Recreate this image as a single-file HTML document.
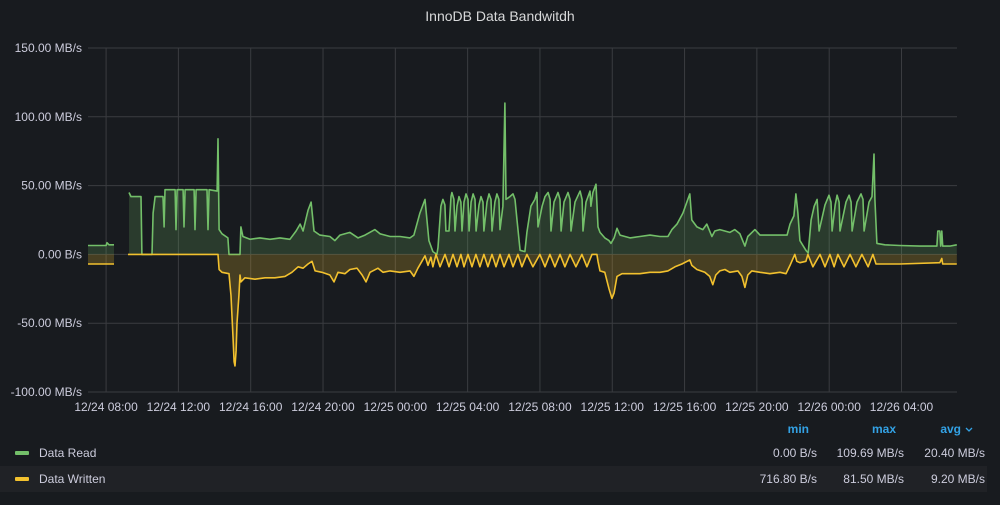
<!DOCTYPE html>
<html><head><meta charset="utf-8"><style>
html,body{margin:0;padding:0;background:#181b1f;}
body{width:1000px;height:500px;overflow:hidden;font-family:"Liberation Sans",sans-serif;}
svg text{font-family:"Liberation Sans",sans-serif;}
</style></head><body>
<svg id="chart" width="1000" height="500" xmlns="http://www.w3.org/2000/svg">
<rect x="0" y="0" width="1000" height="500" fill="#181b1f"/>
<text x="500" y="21" fill="#d8d9da" font-size="14" text-anchor="middle" font-weight="500">InnoDB Data Bandwitdh</text>
<g id="grid"></g><g id="series"></g><g id="axes"></g>
<g id="legend">
<text x="809" y="433" fill="#33a2e5" font-size="12" text-anchor="end" font-weight="bold">min</text>
<text x="896" y="433" fill="#33a2e5" font-size="12" text-anchor="end" font-weight="bold">max</text>
<text x="961" y="433" fill="#33a2e5" font-size="12" text-anchor="end" font-weight="bold">avg</text>
<path d="M966 428 L969 431 L972 428" stroke="#33a2e5" stroke-width="1.3" fill="none"/>
<g>
<rect x="15" y="451" width="14" height="4" rx="1" fill="#73bf69"/>
<text x="39" y="457" fill="#ccccdc" font-size="12">Data Read</text>
<text x="817" y="457" fill="#ccccdc" font-size="12" text-anchor="end">0.00 B/s</text>
<text x="904" y="457" fill="#ccccdc" font-size="12" text-anchor="end">109.69 MB/s</text>
<text x="985" y="457" fill="#ccccdc" font-size="12" text-anchor="end">20.40 MB/s</text>
</g>
<rect x="0" y="466" width="987" height="26" fill="#202226"/>
<g>
<rect x="15" y="477" width="14" height="4" rx="1" fill="#f2c12e"/>
<text x="39" y="483" fill="#ccccdc" font-size="12">Data Written</text>
<text x="817" y="483" fill="#ccccdc" font-size="12" text-anchor="end">716.80 B/s</text>
<text x="904" y="483" fill="#ccccdc" font-size="12" text-anchor="end">81.50 MB/s</text>
<text x="985" y="483" fill="#ccccdc" font-size="12" text-anchor="end">9.20 MB/s</text>
</g>
</g>
</svg>
<script>
// hours since 12/24 00:00
const yTicks=[150,100,50,0,-50,-100];
const yTickLabels=["150.00 MB/s","100.00 MB/s","50.00 MB/s","0.00 B/s","-50.00 MB/s","-100.00 MB/s"];
const xTicks=[8,12,16,20,24,28,32,36,40,44,48,52];
const xTickLabels=["12/24 08:00","12/24 12:00","12/24 16:00","12/24 20:00","12/25 00:00","12/25 04:00","12/25 08:00","12/25 12:00","12/25 16:00","12/25 20:00","12/26 00:00","12/26 04:00"];
const readT=[7.00,8.00,8.05,8.16,8.44,8.85,9.27,9.38,9.93,9.98,10.54,10.60,10.71,11.15,11.21,11.26,11.82,11.87,11.93,12.26,12.31,12.37,12.87,12.92,12.98,13.58,13.64,13.70,14.14,14.19,14.25,14.41,14.74,14.80,15.41,15.46,15.57,15.96,16.51,17.07,17.62,18.17,18.51,18.73,18.90,19.17,19.34,19.50,19.83,20.38,20.66,20.94,21.49,21.94,22.32,22.87,23.15,23.71,24.26,24.81,25.03,25.36,25.64,25.86,26.08,26.30,26.36,26.52,26.63,26.74,26.80,26.97,27.08,27.13,27.24,27.30,27.41,27.52,27.63,27.69,27.80,27.91,28.02,28.08,28.19,28.30,28.41,28.47,28.63,28.74,28.85,28.90,29.07,29.18,29.29,29.35,29.51,29.62,29.73,29.79,29.95,30.06,30.12,30.34,30.51,30.62,30.73,30.90,31.17,31.28,31.50,31.72,31.83,31.89,32.12,32.28,32.45,32.56,32.61,32.78,33.00,33.11,33.17,33.33,33.55,33.66,33.72,33.94,34.22,34.33,34.38,34.55,34.77,34.82,34.93,35.10,35.21,35.32,35.59,35.82,35.93,36.10,36.26,36.43,36.98,37.53,38.09,38.64,39.08,39.30,39.58,39.91,40.29,40.40,40.68,41.01,41.23,41.51,41.67,41.95,42.50,42.78,43.06,43.34,43.50,43.89,44.17,44.72,45.28,45.67,45.83,46.05,46.16,46.27,46.38,46.71,46.84,47.00,47.17,47.33,47.44,47.77,47.99,48.10,48.16,48.33,48.44,48.55,48.60,48.93,49.10,49.21,49.27,49.54,49.76,49.87,49.93,50.20,50.37,50.48,50.53,50.64,51.08,51.91,53.02,53.96,54.01,54.12,54.17,54.23,54.28,54.67,55.06];
const readV=[6.5,6.5,8.5,7,7,null,45,42,42,0,0,30,42,42,20,47,47,18,47,47,20,47,47,18,47,47,18,47,46,84,18,15,12,0,0,20,13,11,12,11,12,11,17,22,17,32,38,17,14,13,10,14,16,12,14,18,15,13,13,12,14,30,40,10,2,0,5,35,40,36,17,17,42,45,40,17,35,42,38,17,38,44,40,17,38,44,40,17,36,42,38,17,38,44,40,17,38,44,40,18,35,110,40,42,44,40,25,3,2,16,35,40,45,20,35,42,45,40,17,38,45,40,17,38,45,40,17,38,46,40,17,38,46,35,45,51,20,16,12,10,8,12,19,14,12,13,14,13,13,18,22,30,44,25,20,18,22,13,17,18,16,18,15,6,13,18,14,14,14,14,22,28,44,30,10,3,1,25,35,40,17,36,43,38,17,36,43,38,17,38,43,38,17,38,44,40,17,38,42,73,40,8,7,6.5,6,6,17,17,6,17,6,6,7];
const writeT=[7.00,8.44,8.85,9.21,14.19,14.25,14.41,14.80,14.91,15.02,15.08,15.13,15.19,15.24,15.35,15.41,15.46,15.68,16.24,16.79,17.34,17.90,18.28,18.62,18.90,19.17,19.39,19.56,19.94,20.38,20.61,20.83,21.21,21.49,21.88,22.16,22.38,22.60,23.04,23.32,23.71,24.26,24.81,25.03,25.25,25.47,25.64,25.81,25.97,26.08,26.25,26.47,26.75,26.97,27.19,27.41,27.63,27.80,28.02,28.24,28.46,28.68,28.90,29.12,29.35,29.57,29.79,30.01,30.29,30.51,30.78,31.00,31.28,31.61,32.00,32.28,32.55,32.83,33.11,33.38,33.66,33.99,34.32,34.60,34.88,35.15,35.21,35.32,35.59,35.82,35.98,36.10,36.26,36.54,36.98,37.53,38.09,38.64,39.08,39.47,39.85,40.29,40.40,40.68,41.12,41.39,41.56,41.73,41.95,42.23,42.50,42.95,43.17,43.34,43.50,43.72,44.17,44.72,45.28,45.61,45.83,46.10,46.21,46.38,46.71,46.82,47.10,47.49,47.77,48.04,48.27,48.48,48.82,49.15,49.48,49.81,50.15,50.42,50.59,51.91,54.12,54.23,54.28,55.06];
const writeV=[-7,-7,null,0,0,-11,-13,-14,-30,-60,-78,-81,-70,-50,-30,-15,-20,-17,-18,-17,-17,-16,-13,-9,-10,-7,-5,-12,-13,-15,-20,-13,-14,-11,-10,-15,-20,-13,-10,-13,-12,-13,-12,-16,-10,-5,-1,-8,-2,-9,0,-9,0,-9,0,-9,0,-9,0,-9,0,-9,0,-9,0,-9,0,-9,0,-9,0,-9,0,-9,0,-9,0,-9,0,-9,0,-9,0,-9,0,0,-5,-12,-13,-25,-32,-28,-16,-14,-14,-14,-13,-13,-12,-9,-7,-4,-8,-11,-13,-16,-22,-15,-12,-11,-13,-12,-16,-24,-15,-12,-13,-14,-13,-14,-8,0,-5,-6,-5,0,-9,0,-9,0,-9,0,-9,0,-9,0,-9,0,-7,-7,-6,-3,-7,-7];

const X0=88,X1=957,Y0=48,Y1=392,TMIN=7.0,TMAX=55.07,VMIN=-100,VMAX=150;
const xs=t=>X0+(t-TMIN)/(TMAX-TMIN)*(X1-X0);
const ys=v=>Y1-(v-VMIN)/(VMAX-VMIN)*(Y1-Y0);
const NS="http://www.w3.org/2000/svg";
function mk(tag,parent){const e=document.createElementNS(NS,tag);parent.appendChild(e);return e;}
const grid=document.getElementById('grid'),axes=document.getElementById('axes'),ser=document.getElementById('series');
yTicks.forEach((v,i)=>{
  const l=mk('line',grid);
  
  
  l.setAttribute('x1',X0);l.setAttribute('x2',X1);l.setAttribute('y1',ys(v));l.setAttribute('y2',ys(v));
  l.setAttribute('stroke','#3a3c40');l.setAttribute('stroke-width','1');
  const t=mk('text',axes);
  
  
  t.setAttribute('x',82);t.setAttribute('y',ys(v)+4);t.setAttribute('text-anchor','end');
  t.setAttribute('fill','#ccccdc');t.setAttribute('font-size','12');t.textContent=yTickLabels[i];
});
xTicks.forEach((h,i)=>{
  const l=mk('line',grid);
  
  
  l.setAttribute('x1',xs(h));l.setAttribute('x2',xs(h));l.setAttribute('y1',Y0);l.setAttribute('y2',Y1);
  l.setAttribute('stroke','#3a3c40');l.setAttribute('stroke-width','1');
  const t=mk('text',axes);
  
  
  t.setAttribute('x',xs(h));t.setAttribute('y',411);t.setAttribute('text-anchor','middle');
  t.setAttribute('fill','#ccccdc');t.setAttribute('font-size','12');t.textContent=xTickLabels[i];
});
function segments(T,V){const segs=[];let cur=[];T.forEach((t,i)=>{if(V[i]===null){if(cur.length)segs.push(cur);cur=[];}else cur.push([xs(t),ys(V[i])]);});if(cur.length)segs.push(cur);return segs;}
function draw(T,V,color,fill,name){
  segments(T,V).forEach(s=>{
    const a=mk('path',ser);
    
    
    a.setAttribute('d','M'+s[0][0]+' '+ys(0)+' '+s.map(p=>'L'+p[0].toFixed(1)+' '+p[1].toFixed(1)).join(' ')+' L'+s[s.length-1][0]+' '+ys(0)+' Z');
    a.setAttribute('fill',fill);
    const l=mk('path',ser);
    
    
    l.setAttribute('d',s.map((p,i)=>(i?'L':'M')+p[0].toFixed(1)+' '+p[1].toFixed(1)).join(' '));
    l.setAttribute('fill','none');l.setAttribute('stroke',color);l.setAttribute('stroke-width','1.6');l.setAttribute('stroke-linejoin','round');
  });
}
draw(readT,readV,'#73bf69','rgba(115,191,105,0.2)','data-read');
draw(writeT,writeV,'#f2c12e','rgba(242,193,46,0.22)','data-written');
</script>
</body></html>
